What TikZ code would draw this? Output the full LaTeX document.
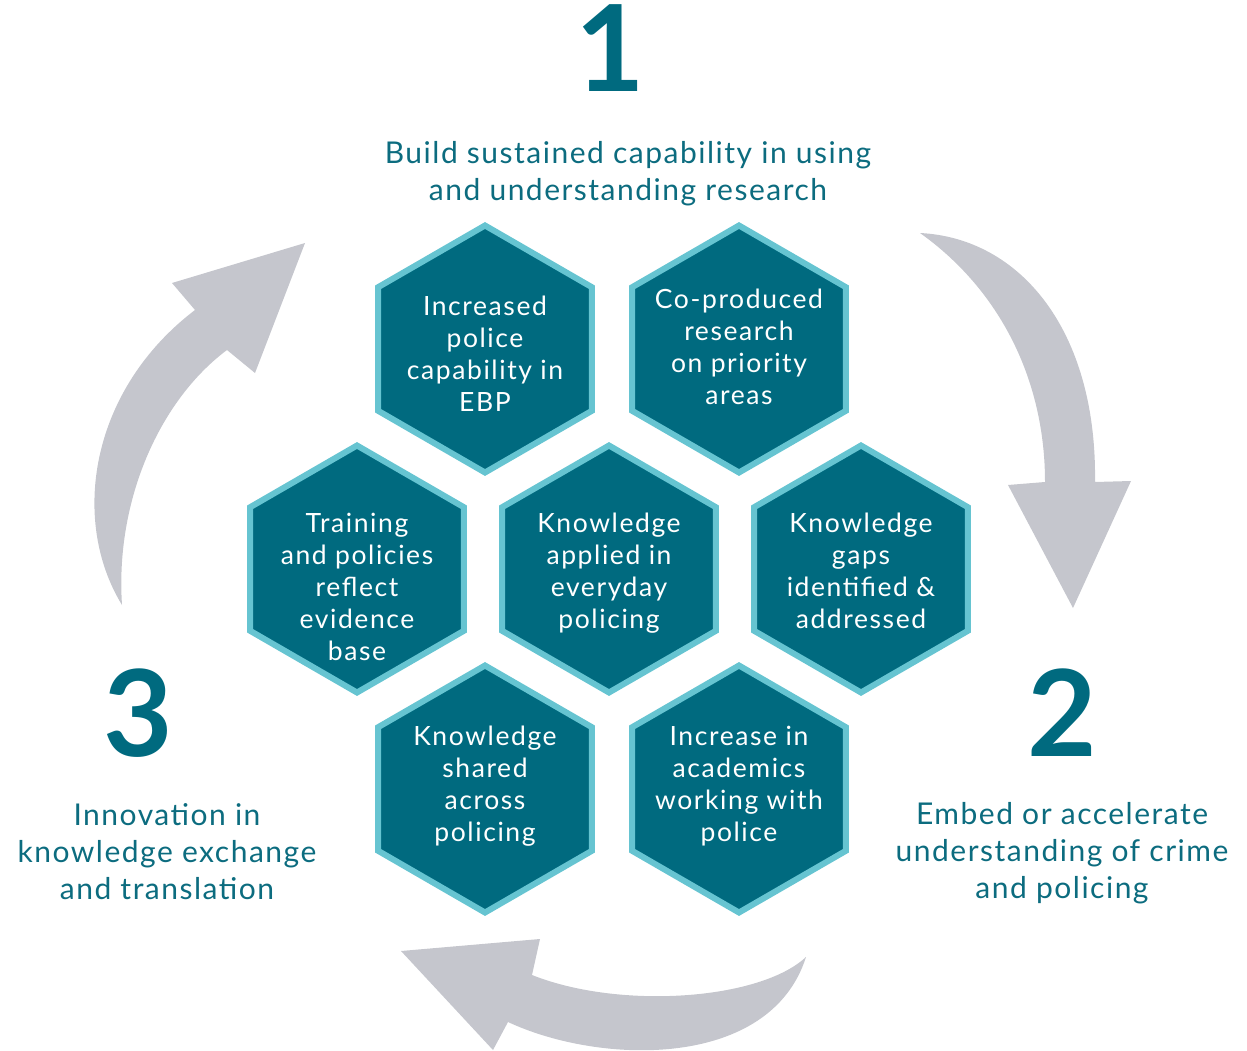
\documentclass[tikz,border=0pt]{standalone}
\usepackage{fontspec}
\setmainfont{Lato}
\usetikzlibrary{shapes.geometric}
\definecolor{hexfill}{HTML}{006A7F}
\definecolor{hexedge}{HTML}{66C4D1}
\definecolor{arrowgray}{HTML}{C5C6CD}
\definecolor{headtext}{HTML}{0C6C7F}
\begin{document}
\begin{tikzpicture}[x=1pt,y=-1pt,
  hexcell/.style={regular polygon, regular polygon sides=6, shape border rotate=30,
    minimum size=247pt, inner sep=0pt, outer sep=0pt,
    fill=hexfill, draw=hexedge, line width=6pt},
  hextext/.style={anchor=north, inner sep=0pt, align=center, text=white,
    font=\fontsize{26.5}{32}\selectfont\addfontfeature{LetterSpace=6}},
  headline/.style={anchor=north, inner sep=0pt, align=center, text=headtext,
    font=\fontsize{30}{37}\selectfont\addfontfeature{LetterSpace=5}},
  bignum/.style={anchor=base, inner sep=0pt, text=hexfill,
    font=\fontsize{120}{120}\selectfont\bfseries},
  cyclearrow/.style={fill=arrowgray, draw=none}]
\useasboundingbox (0,0) rectangle (1247,1051);

% circular arrows
\fill[cyclearrow] (920,233) .. controls (1020,238) and (1097,330) .. (1095,482)
  -- (1131,481) -- (1073,608) -- (1008,485) -- (1045,482)
  .. controls (1045,380) and (1000,290) .. (920,233) -- cycle;
\fill[cyclearrow] (806,957) .. controls (760,1000) and (620,1010) .. (532,975)
  -- (540,939) -- (401,951) -- (493,1050) -- (508,1022)
  .. controls (600,1065) and (770,1070) .. (806,957) -- cycle;
\fill[cyclearrow] (122,605) .. controls (70,520) and (90,390) .. (195,310)
  -- (172,283) -- (305,243) -- (255,373) -- (227,350)
  .. controls (160,400) and (115,500) .. (122,605) -- cycle;

% honeycomb
\node[hexcell] (capEBP) at (485,349) {};
\node[hexcell] (coProd) at (739,349) {};
\node[hexcell] (training) at (357,569) {};
\node[hexcell] (applied) at (609,569) {};
\node[hexcell] (gaps) at (861,569) {};
\node[hexcell] (shared) at (485,789) {};
\node[hexcell] (academics) at (739,789) {};

\node[hextext] (capEBPtext) at (485,292.6) {\strut Increased\\police\\capability in\\EBP};
\node[hextext] (coProdtext) at (739,285.6) {\strut Co-produced\\research\\on priority\\areas};
\node[hextext] (trainingtext) at (357,509.6) {\strut Training\\and policies\\reflect\\evidence\\base};
\node[hextext] (appliedtext) at (609,509.6) {\strut Knowledge\\applied in\\everyday\\policing};
\node[hextext] (gapstext) at (861,509.6) {\strut Knowledge\\gaps\\identified \&\\addressed};
\node[hextext] (sharedtext) at (485,722.6) {\strut Knowledge\\shared\\across\\policing};
\node[hextext] (academicstext) at (739,722.6) {\strut Increase in\\academics\\working with\\police};

% stage numbers and goals
\node[bignum] (num1) at (610,92) {1};
\node[bignum] (num2) at (1062,756) {2};
\node[bignum] (num3) at (138,756) {3};
\node[headline] (goal1) at (628,137) {\strut Build sustained capability in using\\and understanding research};
\node[headline] (goal2) at (1062,798) {\strut Embed or accelerate\\understanding of crime\\and policing};
\node[headline] (goal3) at (167,799) {\strut Innovation in\\knowledge exchange\\and translation};
\end{tikzpicture}
\end{document}
